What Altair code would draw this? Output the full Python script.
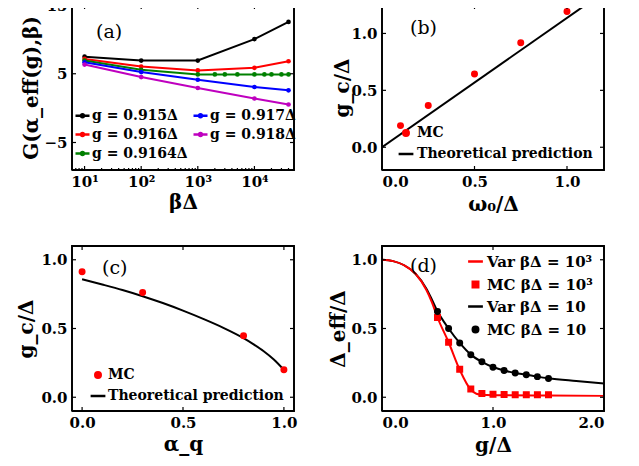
import math
import altair as alt
import pandas as pd

# ---------------- data ----------------
# panel (a)
beta_main = [10, 100, 1000, 10000, 40000]
beta_09164 = [10, 100, 1000, 2000, 3000, 5000, 10000, 15000, 20000, 30000, 40000]
G_0915 = [7.49, 6.92, 6.92, 10.04, 12.54]
G_0916 = [7.16, 6.05, 5.48, 5.86, 6.82]
G_09164 = [6.92, 5.58, 4.90, 4.90, 4.90, 4.90, 4.90, 4.90, 4.90, 4.90, 4.90]
G_0917 = [6.67, 5.24, 4.13, 3.07, 2.59]
G_0918 = [6.34, 4.52, 2.93, 1.40, 0.53]
g_labels = ["g = 0.915Δ", "g = 0.916Δ", "g = 0.9164Δ", "g = 0.917Δ", "g = 0.918Δ"]
a_colors = ["#000000", "#ff0000", "#008000", "#0000ff", "#bf00bf"]
a_xticks = [10, 100, 1000, 10000]
a_yticks = [-5, 5, 15]

# panel (b)
w0_mc = [0.1, 0.25, 0.5, 0.75, 1.0]
gc_mc_b = [0.19, 0.366, 0.644, 0.918, 1.192]
w0_theory = [0.0, 1.2]
gc_theory_b = [0.0, 1.364]

# panel (c)
alpha_mc = [0.0, 0.3, 0.8, 1.0]
gc_mc_c = [0.913, 0.761, 0.448, 0.20]
alpha_theory = [0.0, 0.1, 0.2, 0.3, 0.4, 0.5, 0.6, 0.7, 0.8, 0.85, 0.9, 0.95, 1.0]
gc_theory_c = [0.858, 0.82, 0.78, 0.735, 0.685, 0.63, 0.57, 0.505, 0.43, 0.385, 0.335, 0.275, 0.20]

# panel (d)
g_mc = [0.5, 0.6, 0.7, 0.8, 0.9, 1.0, 1.1, 1.2, 1.3, 1.4, 1.5]
d_mc_1e3 = [0.58, 0.40, 0.203, 0.06, 0.027, 0.021, 0.02, 0.019, 0.019, 0.019, 0.019]
d_mc_10 = [0.624, 0.50, 0.395, 0.309, 0.258, 0.219, 0.194, 0.177, 0.164, 0.15, 0.137]
g_var_10 = [0, 0.1, 0.2, 0.3, 0.4, 0.45, 0.5, 0.6, 0.7, 0.8, 0.9, 1.0, 1.1, 1.2, 1.3, 1.4, 1.5, 1.75, 2.0]
d_var_10 = [1.0, 0.99, 0.96, 0.90, 0.79, 0.71, 0.625, 0.50, 0.395, 0.31, 0.258, 0.22, 0.194, 0.177,
            0.164, 0.15, 0.138, 0.118, 0.10]
g_var_1e3 = [0, 0.1, 0.2, 0.3, 0.4, 0.45, 0.5, 0.6, 0.7, 0.8, 0.85, 0.9, 1.0, 1.5, 2.0]
d_var_1e3 = [1.0, 0.99, 0.96, 0.90, 0.78, 0.69, 0.58, 0.40, 0.20, 0.055, 0.025, 0.018, 0.015, 0.012, 0.01]
d_legend = ["Var βΔ = 10³", "MC βΔ = 10³", "Var βΔ = 10", "MC βΔ = 10"]

lin_ticks = [0.0, 0.5, 1.0]
d_xticks = [0.0, 1.0, 2.0]

# axis ranges
a_xdom, a_ydom = [6, 50000], [-9, 15]
b_xdom, b_ydom = [0, 1.2], [-0.2, 1.25]
c_xdom, c_ydom = [-0.05, 1.05], [-0.1, 1.1]
d_xdom, d_ydom = [0, 2], [-0.1, 1.1]

# ---------------- style ----------------
FONT = "DejaVu Serif"
W, H = 222, 165
RED = "#ff0000"
TL = 4  # tick length in px
PT = 30  # marker area
LINE_SYM = "M-2.7,0H2.7"  # legend line glyph (about 15 px at marker size PT)


def xaxis(values, title, title_y, fmt=None, label_expr=None):
    kw = dict(values=values, title=title, ticks=False, domain=False, grid=False,
              labelPadding=4, titleX=W / 2, titleY=title_y, titleBaseline="middle",
              titleAlign="center")
    if fmt:
        kw["format"] = fmt
    if label_expr:
        kw["labelExpr"] = label_expr
    return alt.Axis(**kw)


def yaxis(values, title, title_x, fmt=None):
    kw = dict(values=values, title=title, ticks=False, domain=False, grid=False,
              labelPadding=5, titleX=title_x, titleY=H / 2, titleBaseline="middle",
              titleAlign="center", titleAngle=270)
    if fmt:
        kw["format"] = fmt
    return alt.Axis(**kw)


def inset(dom, px, size, log=False, from_end=False):
    """Data value lying px pixels inside one end of an axis."""
    if log:
        f = 10 ** (px / size * math.log10(dom[1] / dom[0]))
        return dom[1] / f if from_end else dom[0] * f
    d = px / size * (dom[1] - dom[0])
    return dom[1] - d if from_end else dom[0] + d


def frame_and_ticks(xvals, yvals, xs, ys, xax, yax, xdom, ydom, xlog=False, xminor=None):
    """Closed frame and inward ticks drawn as line segments through the panel scales."""
    segs = []
    k = 0
    # frame
    corners = [(xdom[0], ydom[0]), (xdom[1], ydom[0]), (xdom[1], ydom[1]),
               (xdom[0], ydom[1]), (xdom[0], ydom[0])]
    frame = pd.DataFrame({"x": [c[0] for c in corners], "y": [c[1] for c in corners],
                          "o": list(range(5)), "s": 0})
    for v, ln in [(v, TL) for v in xvals] + [(v, 2) for v in (xminor or [])]:
        for y0, y1 in [(ydom[0], inset(ydom, ln, H)), (ydom[1], inset(ydom, ln, H, from_end=True))]:
            k += 1
            segs += [{"x": v, "y": y0, "o": 0, "s": k}, {"x": v, "y": y1, "o": 1, "s": k}]
    for v in yvals:
        for x0, x1 in [(xdom[0], inset(xdom, TL, W, xlog)), (xdom[1], inset(xdom, TL, W, xlog, True))]:
            k += 1
            segs += [{"x": x0, "y": v, "o": 0, "s": k}, {"x": x1, "y": v, "o": 1, "s": k}]
    ticks = pd.DataFrame(segs)
    enc = dict(x=alt.X("x:Q", scale=xs, axis=xax), y=alt.Y("y:Q", scale=ys, axis=yax),
               order="o:Q", detail="s:N")
    return [
        alt.Chart(ticks).mark_line(color="black", strokeWidth=1.2).encode(**enc),
        alt.Chart(frame).mark_line(color="black", strokeWidth=1.8).encode(**enc),
    ]


def panel_label(txt, x, y):
    return alt.Chart(pd.DataFrame({"t": [txt]})).mark_text(
        font=FONT, fontSize=19, align="left", baseline="middle", color="black"
    ).encode(text="t:N", x=alt.value(x), y=alt.value(y))


def legend(x, y, row_pad, label_offset, size=14, **extra):
    return alt.Legend(title=None, orient="none", legendX=x, legendY=y, padding=0,
                      labelFont=FONT, labelFontSize=size, labelFontWeight="bold",
                      labelColor="black", rowPadding=row_pad, labelOffset=label_offset,
                      labelLimit=400, symbolStrokeWidth=2.5, symbolOpacity=1, **extra)


# ---------------- panel (a) ----------------
rows = []
for lab, xs_, ys_ in zip(g_labels, [beta_main, beta_main, beta_09164, beta_main, beta_main],
                         [G_0915, G_0916, G_09164, G_0917, G_0918]):
    for xv, yv in zip(xs_, ys_):
        rows.append({"g": lab, "beta": xv, "G": yv})
df_a = pd.DataFrame(rows)

xa = alt.Scale(type="log", domain=a_xdom)
ya = alt.Scale(domain=a_ydom)
ca = alt.Scale(domain=g_labels, range=a_colors)
a_minor = [m * d for d in [1, 10, 100, 1000, 10000] for m in range(2, 10) if 6 <= m * d <= 50000]
SYM = "M-1,0H1M-0.2,0A0.2,0.2 0 1,1 0.2,0A0.2,0.2 0 1,1 -0.2,0"
sup = "['⁰','¹','²','³','⁴','⁵'][round(log(datum.value)/LN10)]"

xa_ax = xaxis(a_xticks, "βΔ", 32, label_expr="'10' + " + sup)
ya_ax = yaxis(a_yticks, "G(α_eff(g),β)", -41)
xa_enc = alt.X("beta:Q", scale=xa, axis=xa_ax)
ya_enc = alt.Y("G:Q", scale=ya, axis=ya_ax)
lines_a = alt.Chart(df_a).mark_line(strokeWidth=2).encode(
    x=xa_enc, y=ya_enc,
    color=alt.Color("g:N", scale=ca,
                    legend=legend(2, 102, 3, 1, columns=2, columnPadding=0,
                                  symbolType=SYM, symbolSize=196)))
pts_a = alt.Chart(df_a).mark_circle(size=22, opacity=1).encode(
    x=xa_enc, y=ya_enc, color=alt.Color("g:N", scale=ca, legend=None))
panel_a = alt.layer(lines_a, pts_a,
                    *frame_and_ticks(a_xticks, a_yticks, xa, ya, xa_ax, ya_ax, a_xdom, a_ydom,
                                     xlog=True, xminor=a_minor),
                    panel_label("(a)", 24, 27)).properties(width=W, height=H)


# ---------------- helper for MC layer with merged legend ----------------
def mc_layer(df, xf, yf, xs, ys, xax, yax, dom, colors, shapes, leg):
    enc = dict(
        x=alt.X(f"{xf}:Q", scale=xs, axis=xax), y=alt.Y(f"{yf}:Q", scale=ys, axis=yax),
        color=alt.Color("series:N", scale=alt.Scale(domain=dom, range=colors), legend=leg),
        stroke=alt.Stroke("series:N", scale=alt.Scale(domain=dom, range=colors), legend=leg),
        shape=alt.Shape("series:N", scale=alt.Scale(domain=dom, range=shapes), legend=leg),
    )
    return alt.Chart(df).mark_point(filled=True, opacity=1, strokeWidth=1.5, size=PT).encode(**enc)


bc_dom = ["MC", "Theoretical prediction"]

# ---------------- panel (b) ----------------
xb = alt.Scale(domain=b_xdom)
yb = alt.Scale(domain=b_ydom)
df_b_mc = pd.DataFrame({"w0": w0_mc, "gc": gc_mc_b, "series": "MC"})
df_b_th = pd.DataFrame({"w0": w0_theory, "gc": gc_theory_b})
xb_ax = xaxis(lin_ticks, "ω₀/Δ", 34, fmt=".1f")
yb_ax = yaxis(lin_ticks, "g_c/Δ", -40, fmt=".1f")
line_b = alt.Chart(df_b_th).mark_line(color="black", strokeWidth=2, clip=True).encode(
    x=alt.X("w0:Q", scale=xb, axis=xb_ax), y=alt.Y("gc:Q", scale=yb, axis=yb_ax))
mc_b = mc_layer(df_b_mc, "w0", "gc", xb, yb, xb_ax, yb_ax, bc_dom, [RED, "black"],
                ["circle", LINE_SYM], legend(17, 121, 6, 4, symbolSize=PT))
panel_b = alt.layer(line_b, mc_b,
                    *frame_and_ticks(lin_ticks, lin_ticks, xb, yb, xb_ax, yb_ax, b_xdom, b_ydom),
                    panel_label("(b)", 28, 23)).properties(width=W, height=H)

# ---------------- panel (c) ----------------
xc = alt.Scale(domain=c_xdom)
yc = alt.Scale(domain=c_ydom)
df_c_mc = pd.DataFrame({"a": alpha_mc, "gc": gc_mc_c, "series": "MC"})
df_c_th = pd.DataFrame({"a": alpha_theory, "gc": gc_theory_c})
xc_ax = xaxis(lin_ticks, "α_q", 33, fmt=".1f")
yc_ax = yaxis(lin_ticks, "g_c/Δ", -46, fmt=".1f")
line_c = alt.Chart(df_c_th).mark_line(color="black", strokeWidth=2, interpolate="monotone").encode(
    x=alt.X("a:Q", scale=xc, axis=xc_ax), y=alt.Y("gc:Q", scale=yc, axis=yc_ax))
mc_c = mc_layer(df_c_mc, "a", "gc", xc, yc, xc_ax, yc_ax, bc_dom, [RED, "black"],
                ["circle", LINE_SYM], legend(19, 122, 6, 3, symbolSize=PT))
panel_c = alt.layer(line_c, mc_c,
                    *frame_and_ticks(lin_ticks, lin_ticks, xc, yc, xc_ax, yc_ax, c_xdom, c_ydom),
                    panel_label("(c)", 30, 22)).properties(width=W, height=H)

# ---------------- panel (d) ----------------
xd = alt.Scale(domain=d_xdom)
yd = alt.Scale(domain=d_ydom)
df_d_mc = pd.concat([
    pd.DataFrame({"g": g_mc, "d": d_mc_1e3, "series": d_legend[1]}),
    pd.DataFrame({"g": g_mc, "d": d_mc_10, "series": d_legend[3]}),
])
df_d_v10 = pd.DataFrame({"g": g_var_10, "d": d_var_10})
df_d_v1e3 = pd.DataFrame({"g": g_var_1e3, "d": d_var_1e3})
xd_ax = xaxis(d_xticks, "g/Δ", 34, fmt=".1f")
yd_ax = yaxis(lin_ticks, "Δ_eff/Δ", -44, fmt=".1f")
line_d10 = alt.Chart(df_d_v10).mark_line(color="black", strokeWidth=2, interpolate="monotone").encode(
    x=alt.X("g:Q", scale=xd, axis=xd_ax), y=alt.Y("d:Q", scale=yd, axis=yd_ax))
line_d1e3 = alt.Chart(df_d_v1e3).mark_line(color=RED, strokeWidth=2, interpolate="monotone").encode(
    x=alt.X("g:Q", scale=xd, axis=xd_ax), y=alt.Y("d:Q", scale=yd, axis=yd_ax))
mc_d = mc_layer(df_d_mc, "g", "d", xd, yd, xd_ax, yd_ax, d_legend,
                [RED, RED, "black", "black"], [LINE_SYM, "square", LINE_SYM, "circle"],
                legend(86, 8, 6, 4, size=15, symbolSize=PT))
panel_d = alt.layer(line_d10, line_d1e3, mc_d,
                    *frame_and_ticks(d_xticks, lin_ticks, xd, yd, xd_ax, yd_ax, d_xdom, d_ydom),
                    panel_label("(d)", 28, 20)).properties(width=W, height=H)

# ---------------- assemble ----------------
chart = alt.concat(
    panel_a, panel_b, panel_c, panel_d, columns=2,
    spacing={"row": 76, "column": 88}, bounds="flush",
    padding={"left": 7, "top": -11, "right": 0, "bottom": 0},
).resolve_scale(
    color="independent", stroke="independent", shape="independent",
    x="independent", y="independent"
).configure_view(
    stroke="black", strokeWidth=1.5
).configure_axis(
    labelFont=FONT, labelFontSize=15, labelFontWeight="bold", labelColor="black",
    titleFont=FONT, titleFontSize=20, titleFontWeight="bold", titleColor="black"
)

chart.save("out.html", embed_options={"renderer": "svg", "actions": False})
